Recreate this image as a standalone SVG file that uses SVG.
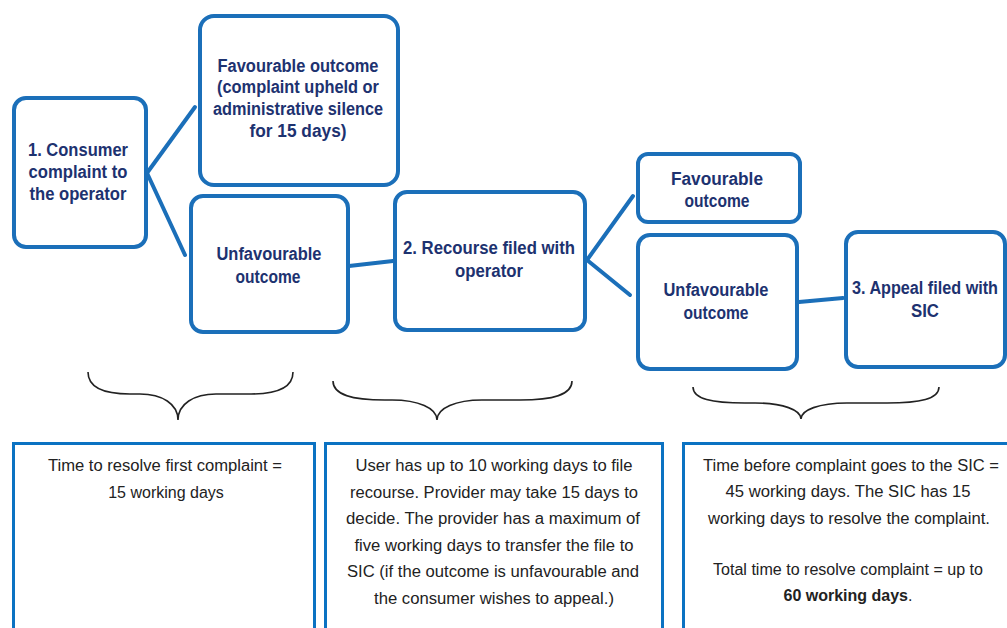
<svg xmlns="http://www.w3.org/2000/svg" width="1007" height="628" viewBox="0 0 1007 628">
<defs>
<style>
.node{fill:#fff;stroke:#1b6fb9;stroke-width:4}
.conn{stroke:#1b6fb9;stroke-width:4;fill:none;stroke-linecap:round}
.brace{stroke:#222;stroke-width:1.6;fill:none}
.info{fill:#fff;stroke:#0b72c2;stroke-width:3}
.nt{font-family:"Liberation Sans Narrow","Liberation Sans",Arial,sans-serif;font-weight:bold;font-size:18px;fill:#1d3270;text-anchor:middle}
.it{font-family:"Liberation Sans",Arial,sans-serif;font-size:16px;fill:#222;text-anchor:middle}
</style>
</defs>
<rect width="1007" height="628" fill="#fff"/>
<g id="connectors">
<line class="conn" x1="147" y1="173" x2="195" y2="107"/>
<line class="conn" x1="147" y1="173" x2="185" y2="255"/>
<line class="conn" x1="349" y1="266" x2="393" y2="261"/>
<line class="conn" x1="587" y1="260" x2="633" y2="196"/>
<line class="conn" x1="587" y1="260" x2="630" y2="295"/>
<line class="conn" x1="799" y1="302" x2="843" y2="298"/>
</g>
<g id="n1"><rect class="node" x="14" y="98" width="132" height="149" rx="12"/>
<text class="nt"><tspan x="78" y="156" textLength="100" lengthAdjust="spacingAndGlyphs">1. Consumer</tspan><tspan x="78" y="178" textLength="99" lengthAdjust="spacingAndGlyphs">complaint to</tspan><tspan x="78" y="200" textLength="97" lengthAdjust="spacingAndGlyphs">the operator</tspan></text></g>
<g id="n2"><rect class="node" x="200" y="16" width="198" height="169" rx="14"/>
<text class="nt"><tspan x="298" y="72" textLength="161" lengthAdjust="spacingAndGlyphs">Favourable outcome</tspan><tspan x="298" y="93" textLength="162" lengthAdjust="spacingAndGlyphs">(complaint upheld or</tspan><tspan x="298" y="115" textLength="170" lengthAdjust="spacingAndGlyphs">administrative silence</tspan><tspan x="298" y="137" textLength="97" lengthAdjust="spacingAndGlyphs">for 15 days)</tspan></text></g>
<g id="n3"><rect class="node" x="191" y="196" width="157" height="136" rx="12"/>
<text class="nt"><tspan x="269" y="260" textLength="105" lengthAdjust="spacingAndGlyphs">Unfavourable</tspan><tspan x="268" y="283" textLength="65" lengthAdjust="spacingAndGlyphs">outcome</tspan></text></g>
<g id="n4"><rect class="node" x="395" y="192" width="190" height="138" rx="12"/>
<text class="nt"><tspan x="489" y="254" textLength="172" lengthAdjust="spacingAndGlyphs">2. Recourse filed with</tspan><tspan x="489" y="277" textLength="68" lengthAdjust="spacingAndGlyphs">operator</tspan></text></g>
<g id="n5"><rect class="node" x="638" y="154" width="162" height="68" rx="10"/>
<text class="nt"><tspan x="717" y="185" textLength="92" lengthAdjust="spacingAndGlyphs">Favourable</tspan><tspan x="717" y="207" textLength="65" lengthAdjust="spacingAndGlyphs">outcome</tspan></text></g>
<g id="n6"><rect class="node" x="638" y="235" width="159" height="134" rx="12"/>
<text class="nt"><tspan x="716" y="296" textLength="105" lengthAdjust="spacingAndGlyphs">Unfavourable</tspan><tspan x="716" y="319" textLength="65" lengthAdjust="spacingAndGlyphs">outcome</tspan></text></g>
<g id="n7"><rect class="node" x="846" y="232" width="159" height="135" rx="12"/>
<text class="nt"><tspan x="925" y="294" textLength="146" lengthAdjust="spacingAndGlyphs">3. Appeal filed with</tspan><tspan x="925" y="317" textLength="28" lengthAdjust="spacingAndGlyphs">SIC</tspan></text></g>
<g id="braces">
<path class="brace" d="M88,372 C88,388 105,394 130,394 L140,394 C162,394 178,404 178,420 C178,404 194,394 216,394 L251,394 C276,394 293,388 293,372"/>
<path class="brace" d="M333,381 C333,395 352,400 385,400 L392,400 C418,400 437,408 437,420 C437,408 456,400 482,400 L520,400 C553,400 572,395 572,381"/>
<path class="brace" d="M693,387 C693,399 712,403 745,403 L755,403 C783,403 801,410 801,419 C801,410 819,403 847,403 L887,403 C920,403 939,399 939,387"/>
</g>
<g id="info1"><rect class="info" x="13.5" y="443.5" width="301" height="200"/>
<text class="it"><tspan x="165" y="471" textLength="234" lengthAdjust="spacingAndGlyphs">Time to resolve first complaint =</tspan><tspan x="166" y="498">15 working days</tspan></text></g>
<g id="info2"><rect class="info" x="325.5" y="443.5" width="337" height="200"/>
<text class="it"><tspan x="494" y="471" textLength="277" lengthAdjust="spacingAndGlyphs">User has up to 10 working days to file</tspan><tspan x="494" y="498" textLength="288" lengthAdjust="spacingAndGlyphs">recourse. Provider may take 15 days to</tspan><tspan x="493" y="524" textLength="294" lengthAdjust="spacingAndGlyphs">decide. The provider has a maximum of</tspan><tspan x="494" y="551" textLength="279" lengthAdjust="spacingAndGlyphs">five working days to transfer the file to</tspan><tspan x="493" y="577" textLength="292" lengthAdjust="spacingAndGlyphs">SIC (if the outcome is unfavourable and</tspan><tspan x="494" y="604" textLength="240" lengthAdjust="spacingAndGlyphs">the consumer wishes to appeal.)</tspan></text></g>
<g id="info3"><rect class="info" x="683.5" y="443.5" width="330" height="200"/>
<text class="it"><tspan x="851" y="471" textLength="296" lengthAdjust="spacingAndGlyphs">Time before complaint goes to the SIC =</tspan><tspan x="848" y="497" textLength="245" lengthAdjust="spacingAndGlyphs">45 working days. The SIC has 15</tspan><tspan x="849" y="524" textLength="282" lengthAdjust="spacingAndGlyphs">working days to resolve the complaint.</tspan><tspan x="848" y="575" textLength="270" lengthAdjust="spacingAndGlyphs">Total time to resolve complaint = up to</tspan><tspan x="848" y="601"><tspan font-weight="bold">60 working days</tspan>.</tspan></text></g>
</svg>
